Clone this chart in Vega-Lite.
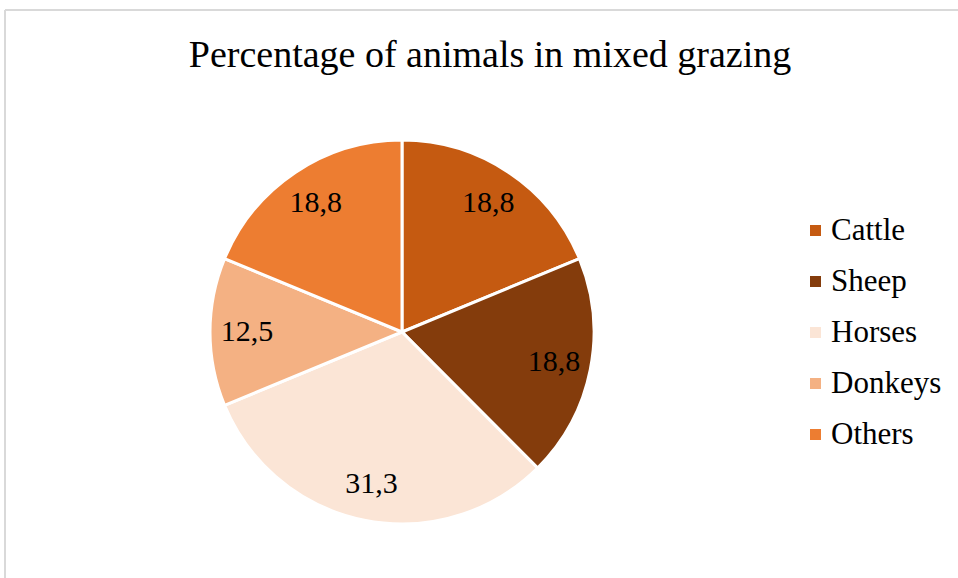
{
  "$schema": "https://vega.github.io/schema/vega-lite/v6.json",
  "autosize": "none",
  "padding": {"left": 5, "top": 10, "right": 159, "bottom": 0},
  "width": 794,
  "height": 644,
  "background": "white",
  "config": {"view": {"stroke": null}, "font": "Liberation Serif"},
  "title": {
    "text": "Percentage of animals in mixed grazing",
    "font": "Liberation Serif",
    "fontSize": 38,
    "fontWeight": "normal",
    "color": "#000000",
    "anchor": "middle",
    "frame": "group",
    "baseline": "alphabetic",
    "offset": -56,
    "dx": 88,
    "dy": 40
  },
  "datasets": {
    "pie": [
      {"animal": "Cattle", "value": 18.8, "label": "18,8", "i": 1},
      {"animal": "Sheep", "value": 18.8, "label": "18,8", "i": 2},
      {"animal": "Horses", "value": 31.3, "label": "31,3", "i": 3},
      {"animal": "Donkeys", "value": 12.5, "label": "12,5", "i": 4},
      {"animal": "Others", "value": 18.8, "label": "18,8", "i": 5}
    ],
    "frame": [{"a": 0, "b": 1, "c": 1.3}]
  },
  "layer": [
    {
      "data": {"name": "frame"},
      "mark": {"type": "rule", "color": "#d9d9d9", "strokeWidth": 2},
      "encoding": {
        "x": {"field": "a", "type": "quantitative", "scale": {"domain": [0, 1]}, "axis": null}
      }
    },
    {
      "data": {"name": "frame"},
      "mark": {"type": "rule", "color": "#d9d9d9", "strokeWidth": 2, "clip": false},
      "encoding": {
        "x": {"field": "a", "type": "quantitative", "scale": {"domain": [0, 1]}, "axis": null},
        "x2": {"field": "c"},
        "y": {"field": "b", "type": "quantitative", "scale": {"domain": [0, 1]}, "axis": null}
      }
    },
    {
      "data": {"name": "pie"},
      "mark": {"type": "arc", "outerRadius": 192, "stroke": "white", "strokeWidth": 3},
      "encoding": {
        "theta": {"field": "value", "type": "quantitative", "stack": true},
        "order": {"field": "i", "type": "quantitative"},
        "color": {
          "field": "animal",
          "type": "nominal",
          "sort": ["Cattle", "Sheep", "Horses", "Donkeys", "Others"],
          "scale": {
            "domain": ["Cattle", "Sheep", "Horses", "Donkeys", "Others"],
            "range": ["#C55A11", "#843C0C", "#FBE5D6", "#F4B183", "#ED7D31"]
          },
          "legend": {
            "title": null,
            "orient": "none",
            "legendX": 795,
            "legendY": 205,
            "symbolType": "square",
            "symbolSize": 121,
            "symbolStrokeWidth": 0,
            "labelFont": "Liberation Serif",
            "labelFontSize": 31,
            "labelColor": "#000000",
            "labelOffset": 0,
            "rowPadding": 19,
            "labelLimit": 300
          }
        }
      }
    },
    {
      "data": {"name": "pie"},
      "mark": {"type": "text", "radius": 155, "font": "Liberation Serif", "fontSize": 30, "color": "#000000"},
      "encoding": {
        "theta": {"field": "value", "type": "quantitative", "stack": true},
        "order": {"field": "i", "type": "quantitative"},
        "text": {"field": "label", "type": "nominal"}
      }
    }
  ]
}
